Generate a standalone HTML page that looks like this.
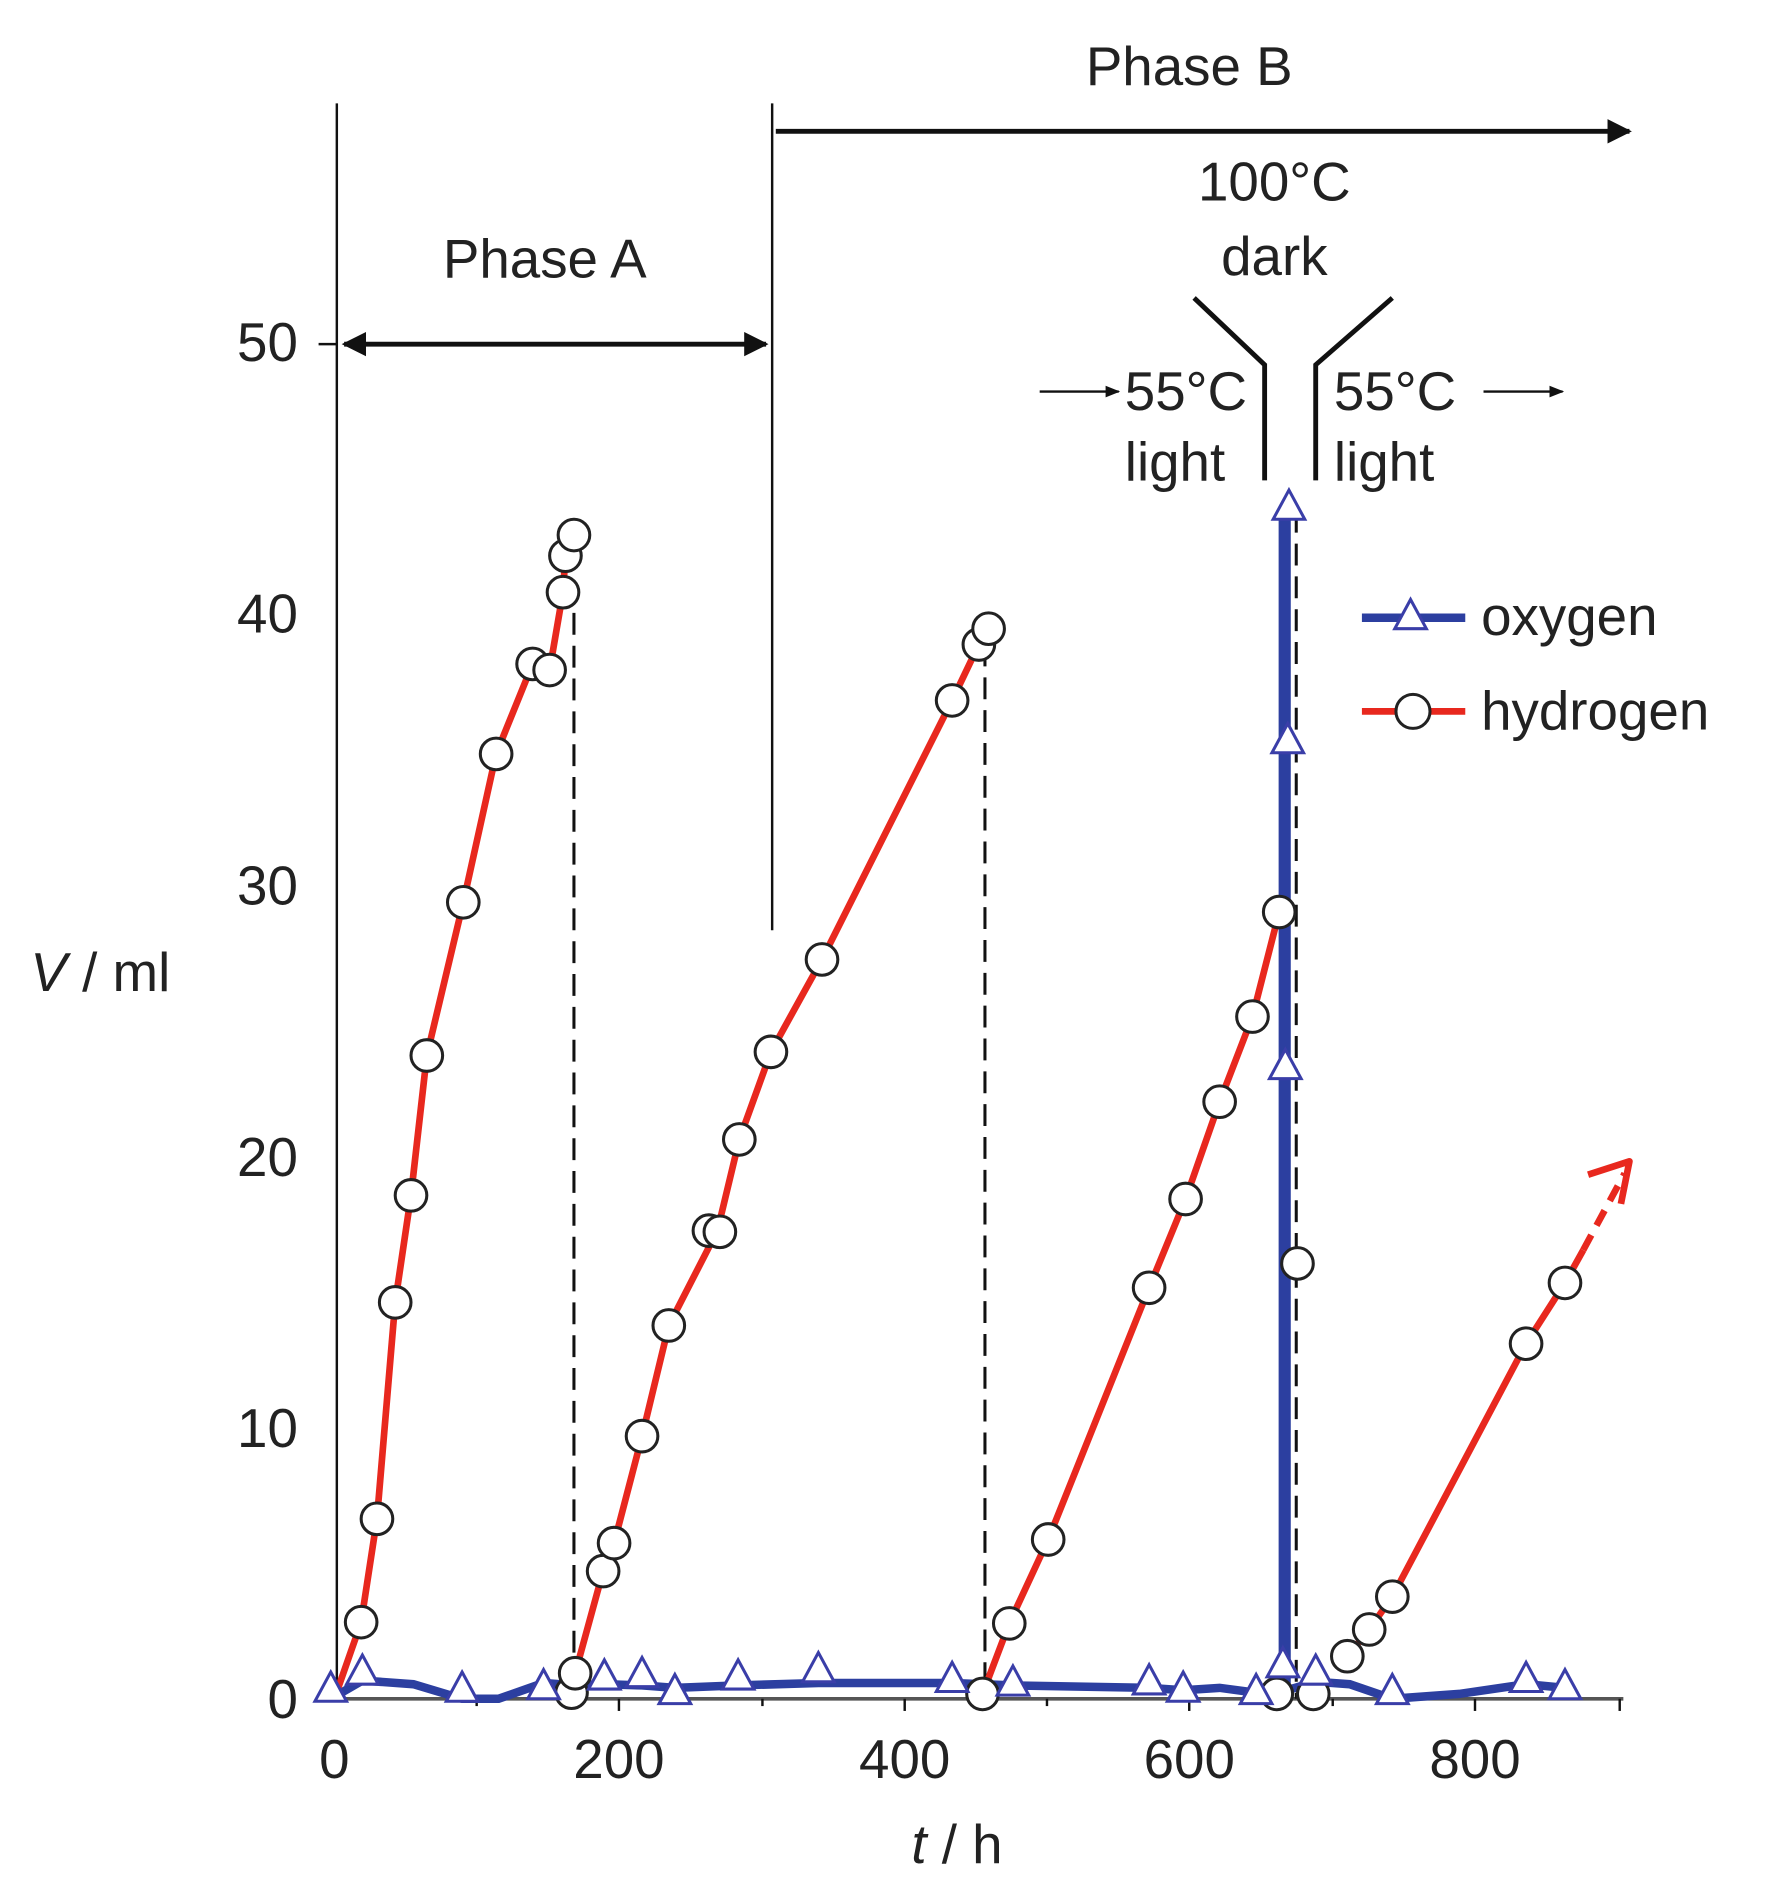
<!DOCTYPE html>
<html><head><style>html,body{margin:0;padding:0;background:#fff}svg{display:block}</style></head><body>
<svg width="1779" height="1897" viewBox="0 0 1463 1560" preserveAspectRatio="none" xmlns="http://www.w3.org/2000/svg" font-family="Liberation Sans, sans-serif">
<defs>
<marker id="ah" viewBox="0 0 10 10" refX="9" refY="5" markerWidth="5" markerHeight="5" orient="auto-start-reverse"><path d="M0,0L10,5L0,10z" fill="#111"/></marker>
<marker id="ahs" viewBox="0 0 10 10" refX="9" refY="5" markerWidth="6" markerHeight="6" orient="auto"><path d="M0,1L10,5L0,9z" fill="#111"/></marker>
</defs>
<g fill="#222" font-size="45">
<text x="978" y="70" text-anchor="middle">Phase B</text>
<text x="448" y="228" text-anchor="middle">Phase A</text>
<text x="1048" y="165" text-anchor="middle">100°C</text>
<text x="1048" y="226" text-anchor="middle">dark</text>
<text x="925" y="337">55°C</text>
<text x="925" y="395">light</text>
<text x="1097" y="337">55°C</text>
<text x="1097" y="395">light</text>
<text x="1218" y="522">oxygen</text>
<text x="1218" y="600">hydrogen</text>
<text x="245" y="297" text-anchor="end">50</text>
<text x="245" y="520" text-anchor="end">40</text>
<text x="245" y="744" text-anchor="end">30</text>
<text x="245" y="967" text-anchor="end">20</text>
<text x="245" y="1190" text-anchor="end">10</text>
<text x="245" y="1413" text-anchor="end">0</text>
<text x="25" y="815"><tspan font-style="italic">V</tspan> / ml</text>
<text x="275" y="1462" text-anchor="middle">0</text>
<text x="509" y="1462" text-anchor="middle">200</text>
<text x="744" y="1462" text-anchor="middle">400</text>
<text x="978" y="1462" text-anchor="middle">600</text>
<text x="1213" y="1462" text-anchor="middle">800</text>
<text x="787" y="1532" text-anchor="middle"><tspan font-style="italic">t</tspan> / h</text>
</g>
<g stroke="#111" fill="none">
<line x1="277" y1="85" x2="277" y2="1397" stroke-width="2"/>
<line x1="635" y1="85" x2="635" y2="765" stroke-width="2"/>
<line x1="277" y1="1397" x2="1335" y2="1397" stroke-width="3" stroke="#555"/>
<line x1="262" y1="283" x2="277" y2="283" stroke-width="2"/>
<line x1="283" y1="283" x2="630" y2="283" stroke-width="4" marker-start="url(#ah)" marker-end="url(#ah)"/>
<line x1="638" y1="108" x2="1340" y2="108" stroke-width="4" marker-end="url(#ah)"/>
<polyline points="982,245 1040,300 1040,395" stroke-width="4"/>
<polyline points="1145,245 1082,300 1082,395" stroke-width="4"/>
<line x1="855" y1="322" x2="920" y2="322" stroke-width="2" marker-end="url(#ahs)"/>
<line x1="1220" y1="322" x2="1285" y2="322" stroke-width="2" marker-end="url(#ahs)"/>
<g stroke-width="2">
<line x1="509" y1="1397" x2="509" y2="1407"/><line x1="744" y1="1397" x2="744" y2="1407"/><line x1="978" y1="1397" x2="978" y2="1407"/><line x1="1213" y1="1397" x2="1213" y2="1407"/><line x1="392" y1="1397" x2="392" y2="1403"/><line x1="627" y1="1397" x2="627" y2="1403"/><line x1="861" y1="1397" x2="861" y2="1403"/><line x1="1096" y1="1397" x2="1096" y2="1403"/><line x1="1332" y1="1397" x2="1332" y2="1407"/>
</g>
<g stroke-width="2.5" stroke-dasharray="18,9">
<line x1="472" y1="450" x2="472" y2="1397"/>
<line x1="810" y1="530" x2="810" y2="1397"/>
<line x1="1066" y1="420" x2="1066" y2="1397"/>
</g>
</g>
<polyline fill="none" stroke="#2c3fa0" stroke-width="7" points="272,1397 298,1382 340,1385 380,1397 410,1397 447,1384 472,1386 497,1385 528,1386 555,1388 607,1386 673,1384 783,1384 833,1386 945,1388 973,1390 1003,1388 1033,1392 1052,1385 1055,1397 1055,420 1058,420 1058,1390 1082,1383 1110,1385 1145,1397 1200,1393 1255,1385 1287,1388"/>
<g fill="none" stroke="#e8281e" stroke-width="5.5" stroke-linejoin="round">
<polyline points="275,1397 297,1334 310,1249 325,1071 338,983 351,868 381,742 408,620 438,546 452,551 463,487 465,457 472,440"/>
<polyline points="473,1376 496,1292 505,1269 528,1181 550,1090 590,1012 608,937 634,865 676,789 783,576 805,530 813,517"/>
<polyline points="808,1393 830,1335 862,1266 945,1059 975,986 1003,906 1030,836 1052,750"/>
<polyline points="1108,1362 1126,1340 1145,1313 1255,1105 1287,1055 1302,1028"/>
<polyline points="1302,1028 1336,965" stroke-dasharray="14,9"/>
<polyline points="1306,966 1340,955 1333,990"/>
<line x1="1120" y1="585" x2="1205" y2="585"/>
</g>
<line x1="1120" y1="508" x2="1205" y2="508" stroke="#2c3fa0" stroke-width="7"/>
<g fill="#fff" stroke="#222" stroke-width="2.5">
<circle cx="297" cy="1334" r="13"/><circle cx="310" cy="1249" r="13"/><circle cx="325" cy="1071" r="13"/><circle cx="338" cy="983" r="13"/><circle cx="351" cy="868" r="13"/><circle cx="381" cy="742" r="13"/><circle cx="408" cy="620" r="13"/><circle cx="438" cy="546" r="13"/><circle cx="452" cy="551" r="13"/><circle cx="463" cy="487" r="13"/><circle cx="465" cy="457" r="13"/><circle cx="472" cy="440" r="13"/>
<circle cx="470" cy="1392" r="13"/><circle cx="473" cy="1376" r="13"/><circle cx="496" cy="1292" r="13"/><circle cx="505" cy="1269" r="13"/><circle cx="528" cy="1181" r="13"/><circle cx="550" cy="1090" r="13"/><circle cx="583" cy="1012" r="13"/><circle cx="592" cy="1013" r="13"/><circle cx="608" cy="937" r="13"/><circle cx="634" cy="865" r="13"/><circle cx="676" cy="789" r="13"/><circle cx="783" cy="576" r="13"/><circle cx="805" cy="530" r="13"/><circle cx="813" cy="517" r="13"/>
<circle cx="808" cy="1393" r="13"/><circle cx="830" cy="1335" r="13"/><circle cx="862" cy="1266" r="13"/><circle cx="945" cy="1059" r="13"/><circle cx="975" cy="986" r="13"/><circle cx="1003" cy="906" r="13"/><circle cx="1030" cy="836" r="13"/><circle cx="1052" cy="750" r="13"/>
<circle cx="1067" cy="1039" r="13"/><circle cx="1050" cy="1393" r="13"/><circle cx="1080" cy="1393" r="13"/>
<circle cx="1108" cy="1362" r="13"/><circle cx="1126" cy="1340" r="13"/><circle cx="1145" cy="1313" r="13"/><circle cx="1255" cy="1105" r="13"/><circle cx="1287" cy="1055" r="13"/>
<circle cx="1162" cy="585" r="14"/>
</g>
<g fill="#fff" stroke="#3a3ea8" stroke-width="2.5">
<path d="M0,-15L13,9L-13,9z" transform="translate(272,1390)"/>
<path d="M0,-15L13,9L-13,9z" transform="translate(298,1376)"/>
<path d="M0,-15L13,9L-13,9z" transform="translate(380,1390)"/>
<path d="M0,-15L13,9L-13,9z" transform="translate(447,1388)"/>
<path d="M0,-15L13,9L-13,9z" transform="translate(497,1380)"/>
<path d="M0,-15L13,9L-13,9z" transform="translate(528,1378)"/>
<path d="M0,-15L13,9L-13,9z" transform="translate(555,1392)"/>
<path d="M0,-15L13,9L-13,9z" transform="translate(607,1380)"/>
<path d="M0,-15L13,9L-13,9z" transform="translate(673,1374)"/>
<path d="M0,-15L13,9L-13,9z" transform="translate(783,1382)"/>
<path d="M0,-15L13,9L-13,9z" transform="translate(833,1385)"/>
<path d="M0,-15L13,9L-13,9z" transform="translate(945,1384)"/>
<path d="M0,-15L13,9L-13,9z" transform="translate(973,1390)"/>
<path d="M0,-15L13,9L-13,9z" transform="translate(1033,1392)"/>
<path d="M0,-15L13,9L-13,9z" transform="translate(1055,1370)"/>
<path d="M0,-15L13,9L-13,9z" transform="translate(1057,878)"/>
<path d="M0,-15L13,9L-13,9z" transform="translate(1059,610)"/>
<path d="M0,-15L13,9L-13,9z" transform="translate(1060,418)"/>
<path d="M0,-15L13,9L-13,9z" transform="translate(1082,1376)"/>
<path d="M0,-15L13,9L-13,9z" transform="translate(1145,1392)"/>
<path d="M0,-15L13,9L-13,9z" transform="translate(1255,1382)"/>
<path d="M0,-15L13,9L-13,9z" transform="translate(1287,1388)"/>
<path d="M0,-15L13,9L-13,9z" transform="translate(1160,508)"/>
</g>
</svg>
</body></html>
